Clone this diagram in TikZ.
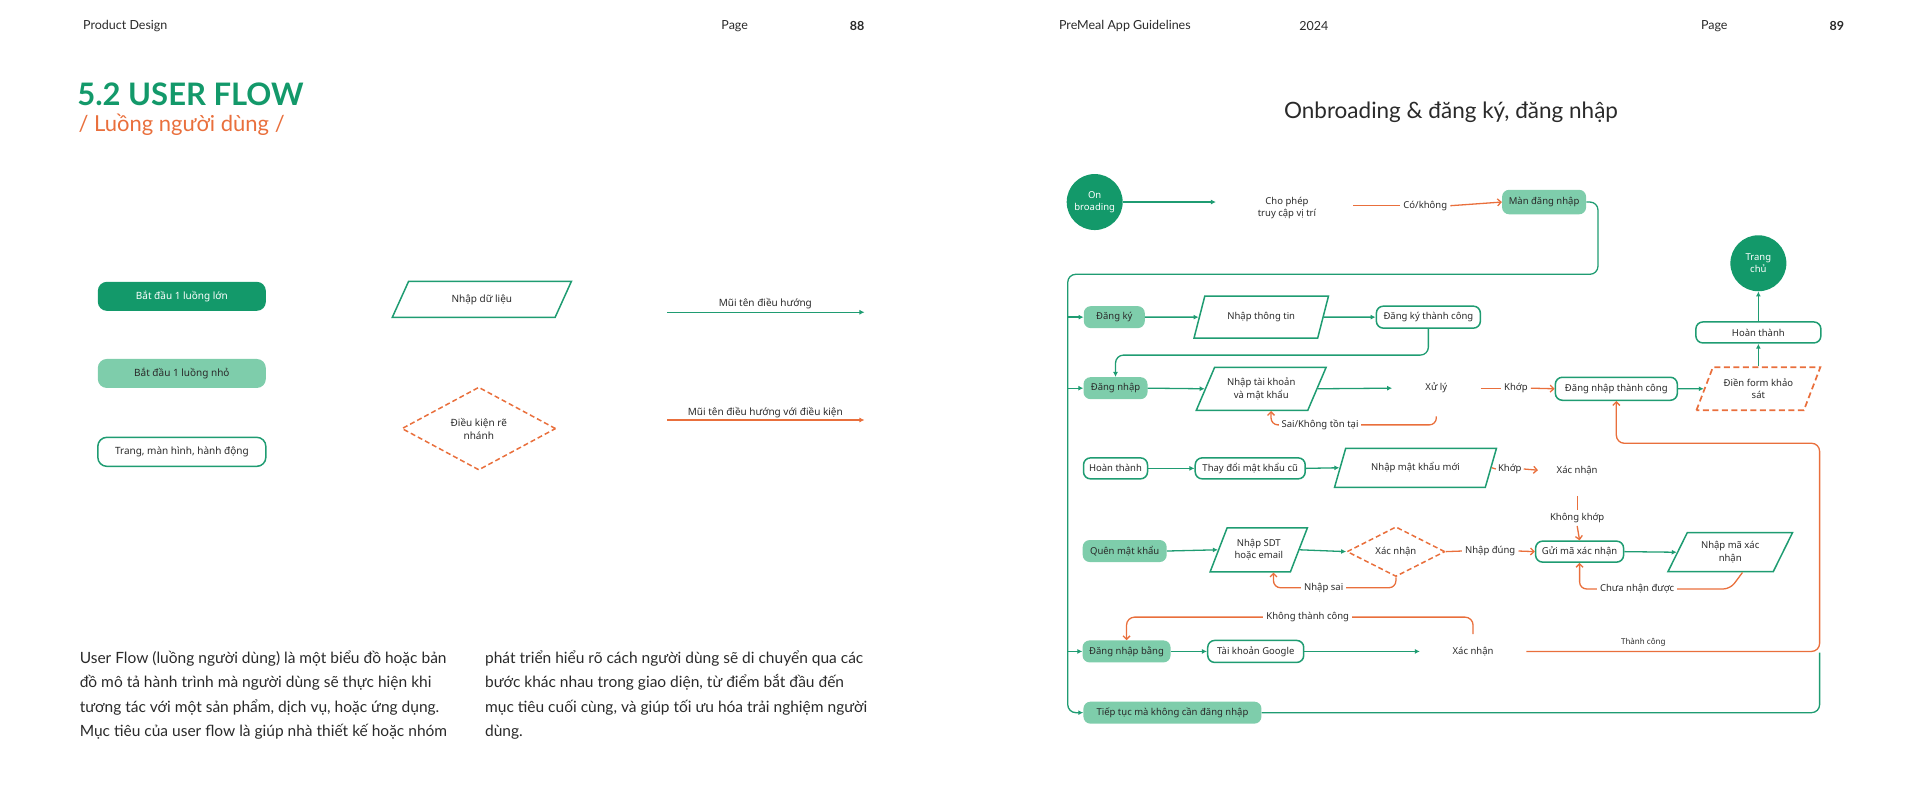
\documentclass[tikz,border=0pt]{standalone}
\usepackage{fontspec}
\setmainfont{Lato}
\newfontfamily\dfont{Noto Sans}
\usetikzlibrary{shapes.geometric,arrows.meta,calc}
\definecolor{dkg}{HTML}{13996A}
\definecolor{ltg}{HTML}{7ECDAB}
\definecolor{lng}{HTML}{1F9C72}
\definecolor{org}{HTML}{E96F3C}
\definecolor{txt}{HTML}{2A2A2A}
\tikzset{
 dt/.style={font=\dfont\fontsize{9.5}{12.5}\selectfont, text=txt, align=center},
 lg/.style={font=\dfont\fontsize{10}{13}\selectfont},
 bigbox/.style={dt, rectangle, rounded corners=9pt, fill=dkg, text=white, inner sep=2pt, minimum width=168pt, minimum height=29pt},
 smallbox/.style={dt, rectangle, rounded corners=7pt, fill=ltg, inner sep=2pt},
 pagebox/.style={dt, rectangle, rounded corners=7pt, draw=lng, line width=1.5pt, fill=white, inner sep=2pt},
 inbox/.style={dt, trapezium, trapezium left angle=60, trapezium right angle=120, trapezium stretches=true, draw=lng, line width=1.5pt, inner sep=1pt},
 condbox/.style={dt, diamond, draw=org, dash pattern=on 5pt off 3pt, line width=1.5pt, inner sep=0pt},
 startc/.style={dt, circle, fill=dkg, text=white, minimum size=56pt, inner sep=0pt},
 plain/.style={dt, inner sep=1pt},
 gline/.style={draw=lng, line width=1.3pt},
 garrow/.style={gline, -{Latex[length=5pt,width=5pt]}},
 oline/.style={draw=org, line width=1.3pt},
 oarrow/.style={oline, -{Straight Barb[length=3.5pt,width=7pt]}},
 lbl/.style={dt, inner sep=3pt},
 hdr/.style={font=\fontsize{12.5}{14}\selectfont, text=txt},
 para/.style={font=\fontsize{15.5}{24}\selectfont, text=txt, anchor=base west, inner sep=0pt},
}
\begin{document}
\begin{tikzpicture}[x=1.2245pt,y=-1.2245pt]
\useasboundingbox (0,0) rectangle (1568,653);
% headers
\node[hdr, anchor=west] (h1) at (65,21) {Product Design};
\node[hdr] (h2) at (600,21) {Page};
\node[hdr, font=\bfseries\fontsize{12.5}{14}\selectfont] (h3) at (700,21) {88};
\node[hdr, anchor=west] (h4) at (862,21) {PreMeal App Guidelines};
\node[hdr] (h5) at (1073,21) {2024};
\node[hdr] (h6) at (1400,21) {Page};
\node[hdr, font=\bfseries\fontsize{12.5}{14}\selectfont] (h7) at (1500,21) {89};
% title
\node[anchor=west, inner sep=0pt, text=dkg, font=\bfseries\fontsize{31}{34}\selectfont] (t1) at (63,77) {5.2 USER FLOW};
\node[anchor=west, inner sep=0pt, text=org, font=\fontsize{22}{25}\selectfont] (t2) at (64,102) {/ Luồng người dùng /};
% legend
\node[bigbox, lg] (l1) at (148.5,242) {Bắt đầu 1 luồng lớn};
\node[smallbox, lg, minimum width=168pt, minimum height=29pt, rounded corners=9pt] (l2) at (148.5,305) {Bắt đầu 1 luồng nhỏ};
\node[pagebox, lg, minimum width=168pt, minimum height=29pt, rounded corners=9pt] (l3) at (148.5,369) {Trang, màn hình, hành động};
\node[inbox, lg, minimum width=180pt, minimum height=36pt] (l4) at (393.5,244.5) {Nhập dữ liệu};
\node[condbox, lg, minimum width=154pt, minimum height=83pt] (l5) at (391,350) {Điều kiện rẽ\\nhánh};
\coordinate (la1) at (545,255); \coordinate (lb1) at (706,255);
\coordinate (la2) at (545,343); \coordinate (lb2) at (706,343);
\draw[garrow] (la1) -- (lb1);
\draw[oline, -{Latex[length=5pt,width=5pt]}] (la2) -- (lb2);
\node[plain, lg] (lt1) at (625,248) {Mũi tên điều hướng};
\node[plain, lg] (lt2) at (625,337) {Mũi tên điều hướng với điều kiện};
% paragraph
\node[para] (p1) at (65,541.5) {User Flow (luồng người dùng) là một biểu đồ hoặc bản};
\node[para] (p2) at (65,561.5) {đồ mô tả hành trình mà người dùng sẽ thực hiện khi};
\node[para] (p3) at (65,581.5) {tương tác với một sản phẩm, dịch vụ, hoặc ứng dụng.};
\node[para] (p4) at (65,601.5) {Mục tiêu của user flow là giúp nhà thiết kế hoặc nhóm};
\node[para] (p5) at (396,541.5) {phát triển hiểu rõ cách người dùng sẽ di chuyển qua các};
\node[para] (p6) at (396,561.5) {bước khác nhau trong giao diện, từ điểm bắt đầu đến};
\node[para] (p7) at (396,581.5) {mục tiêu cuối cùng, và giúp tối ưu hóa trải nghiệm người};
\node[para] (p8) at (396,601.5) {dùng.};
% right title
\node[text=txt, font=\fontsize{22.5}{25}\selectfont] (rt) at (1185,92) {Onbroading \& đăng ký, đăng nhập};

% ===== flow =====
\node[startc] (ob) at (894,165) {On\\broading};
\coordinate (c1) at (993,165);
\draw[garrow] (ob.east) -- (c1);
\node[plain] (cp) at (1051,170) {Cho phép\\truy cập vị trí};
\coordinate (c2) at (1105,168);
\node[lbl] (co) at (1164,168) {Có/không};
\node[smallbox, minimum width=84pt, minimum height=24.5pt] (mdn) at (1261,165) {Màn đăng nhập};
\draw[oline] (c2) -- (co.west);
\draw[oarrow] (co.east) -- (mdn.west);

% row dang ky
\node[smallbox, minimum width=61pt, minimum height=22pt] (dk) at (910,259) {Đăng ký};
\node[inbox, minimum width=135pt, minimum height=42pt] (nt) at (1030,259) {Nhập thông tin};
\node[pagebox, minimum width=104pt, minimum height=22pt] (dktc) at (1166.5,259) {Đăng ký thành công};
% row dang nhap
\node[smallbox, minimum width=64pt, minimum height=22pt] (dn) at (911,317) {Đăng nhập};
\node[inbox, minimum width=130pt, minimum height=43pt] (ntk) at (1030,317.5) {Nhập tài khoản\\và mật khẩu};
\node[plain, minimum width=88pt, minimum height=56pt] (xl) at (1173,317) {Xử lý};
\node[lbl] (kh1) at (1238,317) {Khớp};
\node[pagebox, minimum width=122pt, minimum height=23pt] (dntc) at (1320,317.5) {Đăng nhập thành công};
\node[inbox, draw=org, dash pattern=on 6pt off 3.5pt, line width=1.7pt, minimum width=125pt, minimum height=43pt] (df) at (1436,317.5) {Điền form khảo\\sát};
\node[pagebox, minimum width=125pt, minimum height=21pt] (ht2) at (1436,271.5) {Hoàn thành};
\node[startc] (tc) at (1436,215) {Trang\\chủ};
% row hoan thanh
\node[pagebox, minimum width=64pt, minimum height=21pt] (ht1) at (911,382.5) {Hoàn thành};
\node[pagebox, minimum width=110pt, minimum height=21pt] (tdmk) at (1021,382.5) {Thay đổi mật khẩu cũ};
\node[inbox, minimum width=162pt, minimum height=39pt] (nmkm) at (1156,382) {Nhập mật khẩu mới};
\node[lbl, inner sep=2pt] (kh2) at (1233,383) {Khớp};
\node[plain, minimum width=78pt, minimum height=51pt] (xn1) at (1288,384) {Xác nhận};
\node[lbl] (kk) at (1288,423) {Không khớp};
% row quen mat khau
\node[smallbox, minimum width=84pt, minimum height=22pt] (qmk) at (918.5,450) {Quên mật khẩu};
\node[inbox, minimum width=98pt, minimum height=44pt] (nsdt) at (1028,449) {Nhập SDT\\hoặc email};
\node[condbox, minimum width=98pt, minimum height=43pt] (xn2) at (1140,450.5) {Xác nhận};
\node[lbl] (nd) at (1217,450) {Nhập đúng};
\node[pagebox, minimum width=88pt, minimum height=21pt] (gm) at (1290,450.5) {Gửi mã xác nhận};
\node[inbox, minimum width=125pt, minimum height=39pt] (nmx) at (1413,451) {Nhập mã xác\\nhận};
% row dang nhap bang
\node[smallbox, minimum width=88pt, minimum height=22pt] (dnb) at (920,532) {Đăng nhập bằng};
\node[pagebox, minimum width=96pt, minimum height=22pt] (tkg) at (1025.5,532) {Tài khoản Google};
\node[plain, minimum width=106pt, minimum height=34pt] (xn3) at (1203,532) {Xác nhận};
% row tiep tuc
\node[smallbox, minimum width=178pt, minimum height=22pt] (tt) at (957.5,582) {Tiếp tục mà không cần đăng nhập};

% trunk
\draw[garrow, rounded corners=8pt] (mdn.east) -- (1305,165) -- (1305,224) -- (872,224) -- (872,582) -- (tt.west);
\coordinate (b1) at (872,259);
\coordinate (b2) at (872,317);
\coordinate (b3) at (872,532);
\draw[garrow] (b1) -- (dk.west);
\draw[garrow] (b2) -- (dn.west);
\draw[garrow] (b3) -- (dnb.west);

% dang ky
\draw[garrow] (dk.east) -- (nt.west);
\draw[garrow] (nt.east) -- (dktc.west);
\draw[garrow, rounded corners=8pt] (dktc.south) -- (1166.5,290) -| (dn.north);
% dang nhap
\draw[garrow] (dn.east) -- (ntk.west);
\draw[garrow] (ntk.east) -- (xl.west);
\draw[oarrow, rounded corners=7pt] (xl.south) -- (1173,347) -| ($(ntk.south)+(8,0)$);
\node[lbl, fill=white] (sk) at (1078,347) {Sai/Không tồn tại};
\draw[oline] (xl.east) -- (kh1.west);
\draw[oarrow] (kh1.east) -- (dntc.west);
\draw[garrow] (dntc.east) -- (df.west);
\draw[garrow] (ht2.south |- df.north) -- (ht2.south);
\draw[garrow] (ht2.north) -- (tc.south);
% hoan thanh
\draw[garrow] (ht1.east) -- (tdmk.west);
\draw[garrow] (tdmk.east) -- (nmkm.west);
\draw[oline] (nmkm.east) -- (kh2.west);
\draw[oarrow] (kh2.east) -- (xn1.west);
\draw[oline] (xn1.south) -- (kk.north);
\draw[oarrow] (kk.south) -- (gm.north);
% quen mat khau
\draw[garrow] (qmk.east) -- (nsdt.west);
\draw[garrow] (nsdt.east) -- (xn2.west);
\draw[oline] (xn2.east) -- (nd.west);
\draw[oarrow] (nd.east) -- (gm.west);
\draw[garrow] (gm.east) -- (nmx.west);
\draw[oarrow, rounded corners=7pt] (xn2.south) -- (1140,480) -| ($(nsdt.south)+(12,0)$);
\node[lbl, fill=white] (ns) at (1081,480) {Nhập sai};
\draw[oarrow, rounded corners=7pt] ($(nmx.south)+(10,0)$) -- (1413,481) -| (gm.south);
\node[lbl, fill=white] (cn) at (1337,481) {Chưa nhận được};
% dang nhap bang
\draw[garrow] (dnb.east) -- (tkg.west);
\draw[garrow] (tkg.east) -- (xn3.west);
\draw[oarrow, rounded corners=8pt] (xn3.north) -- (1203,504) -| (dnb.north);
\node[lbl, fill=white] (ktc) at (1068,504) {Không thành công};
\draw[oarrow, rounded corners=8pt] (xn3.east) -- (1486,532) -- (1486,362) -| (dntc.south);
\node[lbl, font=\dfont\fontsize{8}{10}\selectfont] (thc) at (1342,525) {Thành công};
\draw[gline, rounded corners=8pt] (tt.east) -- (1486,582) -- (1486,533);
\end{tikzpicture}
\end{document}
